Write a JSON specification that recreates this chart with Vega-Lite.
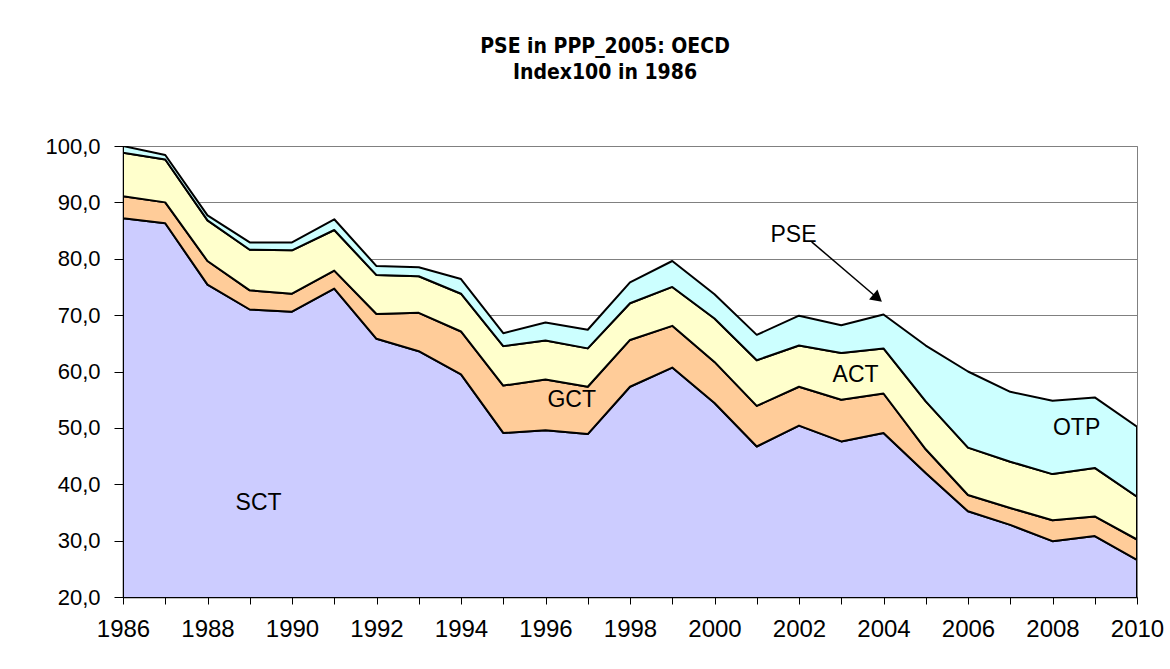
{
  "$schema": "https://vega.github.io/schema/vega-lite/v6.json",
  "width": 1014,
  "height": 451,
  "autosize": {"type": "none"},
  "padding": {"left": 123, "top": 146, "right": 33, "bottom": 72},
  "background": "white",
  "config": {
    "view": {"stroke": "#808080", "strokeWidth": 1},
    "font": "Liberation Sans"
  },
  "title": {
    "text": ["PSE in PPP_2005: OECD", "Index100 in 1986"],
    "font": "DejaVu Sans Condensed, Liberation Sans, sans-serif",
    "fontSize": 21,
    "fontWeight": "bold",
    "color": "black",
    "anchor": "middle",
    "lineHeight": 26,
    "offset": 52,
    "dx": -25
  },
  "datasets": {
    "pse": [
      {"year": 1986, "component": "SCT", "k": 1, "value": 87.2}, {"year": 1986, "component": "GCT", "k": 2, "value": 3.9}, {"year": 1986, "component": "ACT", "k": 3, "value": 7.7}, {"year": 1986, "component": "OTP", "k": 4, "value": 1.2},
      {"year": 1987, "component": "SCT", "k": 1, "value": 86.3}, {"year": 1987, "component": "GCT", "k": 2, "value": 3.7}, {"year": 1987, "component": "ACT", "k": 3, "value": 7.6}, {"year": 1987, "component": "OTP", "k": 4, "value": 0.8},
      {"year": 1988, "component": "SCT", "k": 1, "value": 75.4}, {"year": 1988, "component": "GCT", "k": 2, "value": 4.2}, {"year": 1988, "component": "ACT", "k": 3, "value": 7.2}, {"year": 1988, "component": "OTP", "k": 4, "value": 0.9},
      {"year": 1989, "component": "SCT", "k": 1, "value": 71.0}, {"year": 1989, "component": "GCT", "k": 2, "value": 3.4}, {"year": 1989, "component": "ACT", "k": 3, "value": 7.2}, {"year": 1989, "component": "OTP", "k": 4, "value": 1.3},
      {"year": 1990, "component": "SCT", "k": 1, "value": 70.6}, {"year": 1990, "component": "GCT", "k": 2, "value": 3.2}, {"year": 1990, "component": "ACT", "k": 3, "value": 7.7}, {"year": 1990, "component": "OTP", "k": 4, "value": 1.4},
      {"year": 1991, "component": "SCT", "k": 1, "value": 74.7}, {"year": 1991, "component": "GCT", "k": 2, "value": 3.2}, {"year": 1991, "component": "ACT", "k": 3, "value": 7.2}, {"year": 1991, "component": "OTP", "k": 4, "value": 1.9},
      {"year": 1992, "component": "SCT", "k": 1, "value": 65.8}, {"year": 1992, "component": "GCT", "k": 2, "value": 4.4}, {"year": 1992, "component": "ACT", "k": 3, "value": 6.9}, {"year": 1992, "component": "OTP", "k": 4, "value": 1.6},
      {"year": 1993, "component": "SCT", "k": 1, "value": 63.6}, {"year": 1993, "component": "GCT", "k": 2, "value": 6.8}, {"year": 1993, "component": "ACT", "k": 3, "value": 6.5}, {"year": 1993, "component": "OTP", "k": 4, "value": 1.6},
      {"year": 1994, "component": "SCT", "k": 1, "value": 59.5}, {"year": 1994, "component": "GCT", "k": 2, "value": 7.6}, {"year": 1994, "component": "ACT", "k": 3, "value": 6.7}, {"year": 1994, "component": "OTP", "k": 4, "value": 2.6},
      {"year": 1995, "component": "SCT", "k": 1, "value": 49.1}, {"year": 1995, "component": "GCT", "k": 2, "value": 8.4}, {"year": 1995, "component": "ACT", "k": 3, "value": 7.0}, {"year": 1995, "component": "OTP", "k": 4, "value": 2.3},
      {"year": 1996, "component": "SCT", "k": 1, "value": 49.6}, {"year": 1996, "component": "GCT", "k": 2, "value": 9.0}, {"year": 1996, "component": "ACT", "k": 3, "value": 6.9}, {"year": 1996, "component": "OTP", "k": 4, "value": 3.2},
      {"year": 1997, "component": "SCT", "k": 1, "value": 48.9}, {"year": 1997, "component": "GCT", "k": 2, "value": 8.4}, {"year": 1997, "component": "ACT", "k": 3, "value": 6.8}, {"year": 1997, "component": "OTP", "k": 4, "value": 3.3},
      {"year": 1998, "component": "SCT", "k": 1, "value": 57.3}, {"year": 1998, "component": "GCT", "k": 2, "value": 8.3}, {"year": 1998, "component": "ACT", "k": 3, "value": 6.5}, {"year": 1998, "component": "OTP", "k": 4, "value": 3.7},
      {"year": 1999, "component": "SCT", "k": 1, "value": 60.7}, {"year": 1999, "component": "GCT", "k": 2, "value": 7.4}, {"year": 1999, "component": "ACT", "k": 3, "value": 6.9}, {"year": 1999, "component": "OTP", "k": 4, "value": 4.6},
      {"year": 2000, "component": "SCT", "k": 1, "value": 54.4}, {"year": 2000, "component": "GCT", "k": 2, "value": 7.3}, {"year": 2000, "component": "ACT", "k": 3, "value": 7.7}, {"year": 2000, "component": "OTP", "k": 4, "value": 4.3},
      {"year": 2001, "component": "SCT", "k": 1, "value": 46.7}, {"year": 2001, "component": "GCT", "k": 2, "value": 7.2}, {"year": 2001, "component": "ACT", "k": 3, "value": 8.1}, {"year": 2001, "component": "OTP", "k": 4, "value": 4.5},
      {"year": 2002, "component": "SCT", "k": 1, "value": 50.4}, {"year": 2002, "component": "GCT", "k": 2, "value": 6.9}, {"year": 2002, "component": "ACT", "k": 3, "value": 7.3}, {"year": 2002, "component": "OTP", "k": 4, "value": 5.3},
      {"year": 2003, "component": "SCT", "k": 1, "value": 47.6}, {"year": 2003, "component": "GCT", "k": 2, "value": 7.4}, {"year": 2003, "component": "ACT", "k": 3, "value": 8.3}, {"year": 2003, "component": "OTP", "k": 4, "value": 4.9},
      {"year": 2004, "component": "SCT", "k": 1, "value": 49.1}, {"year": 2004, "component": "GCT", "k": 2, "value": 7.0}, {"year": 2004, "component": "ACT", "k": 3, "value": 8.0}, {"year": 2004, "component": "OTP", "k": 4, "value": 6.0},
      {"year": 2005, "component": "SCT", "k": 1, "value": 42.0}, {"year": 2005, "component": "GCT", "k": 2, "value": 4.2}, {"year": 2005, "component": "ACT", "k": 3, "value": 8.5}, {"year": 2005, "component": "OTP", "k": 4, "value": 9.9},
      {"year": 2006, "component": "SCT", "k": 1, "value": 35.2}, {"year": 2006, "component": "GCT", "k": 2, "value": 2.9}, {"year": 2006, "component": "ACT", "k": 3, "value": 8.4}, {"year": 2006, "component": "OTP", "k": 4, "value": 13.5},
      {"year": 2007, "component": "SCT", "k": 1, "value": 32.8}, {"year": 2007, "component": "GCT", "k": 2, "value": 3.0}, {"year": 2007, "component": "ACT", "k": 3, "value": 8.2}, {"year": 2007, "component": "OTP", "k": 4, "value": 12.4},
      {"year": 2008, "component": "SCT", "k": 1, "value": 29.9}, {"year": 2008, "component": "GCT", "k": 2, "value": 3.7}, {"year": 2008, "component": "ACT", "k": 3, "value": 8.2}, {"year": 2008, "component": "OTP", "k": 4, "value": 13.0},
      {"year": 2009, "component": "SCT", "k": 1, "value": 30.8}, {"year": 2009, "component": "GCT", "k": 2, "value": 3.5}, {"year": 2009, "component": "ACT", "k": 3, "value": 8.6}, {"year": 2009, "component": "OTP", "k": 4, "value": 12.5},
      {"year": 2010, "component": "SCT", "k": 1, "value": 26.6}, {"year": 2010, "component": "GCT", "k": 2, "value": 3.6}, {"year": 2010, "component": "ACT", "k": 3, "value": 7.6}, {"year": 2010, "component": "OTP", "k": 4, "value": 12.4}
    ],
    "labels": [
      {"label": "SCT", "year": 1989.21, "value": 36.7},
      {"label": "GCT", "year": 1996.62, "value": 55.0},
      {"label": "ACT", "year": 2003.34, "value": 59.4},
      {"label": "OTP", "year": 2008.57, "value": 49.9},
      {"label": "PSE", "year": 2001.87, "value": 84.3}
    ],
    "arrow": [
      {"year": 2002.3, "value": 83.0, "year2": 2003.8, "value2": 73.4}
    ],
    "arrowhead": [
      {"year": 2003.86, "value": 73.0}
    ]
  },
  "layer": [
    {
      "data": {"name": "pse"},
      "mark": {"type": "area", "stroke": "black", "strokeWidth": 2, "clip": true, "strokeJoin": "round"},
      "encoding": {
        "x": {
          "field": "year", "type": "quantitative",
          "scale": {"domain": [1986, 2010], "nice": false, "zero": false},
          "axis": {
            "title": null,
            "values": [1986,1987,1988,1989,1990,1991,1992,1993,1994,1995,1996,1997,1998,1999,2000,2001,2002,2003,2004,2005,2006,2007,2008,2009,2010],
            "labelExpr": "datum.value % 2 === 0 ? format(datum.value, 'd') : ''",
            "grid": false,
            "domainColor": "black",
            "domainWidth": 1.5,
            "tickColor": "black",
            "tickSize": 7,
            "labelFontSize": 24,
            "labelColor": "black",
            "labelPadding": 13,
            "labelFlush": false,
            "labelOverlap": false
          }
        },
        "y": {
          "field": "value", "type": "quantitative", "stack": "zero",
          "scale": {"domain": [20, 100], "nice": false, "zero": false},
          "axis": {
            "title": null,
            "values": [20,30,40,50,60,70,80,90,100],
            "labelExpr": "replace(format(datum.value, '.1f'), '.', ',')",
            "grid": true,
            "gridColor": "#808080",
            "gridWidth": 1,
            "domainColor": "black",
            "domainWidth": 1.5,
            "tickColor": "black",
            "tickSize": 9,
            "labelFontSize": 22,
            "labelColor": "black",
            "labelPadding": 14
          }
        },
        "color": {
          "field": "component", "type": "nominal",
          "scale": {"domain": ["SCT", "GCT", "ACT", "OTP"], "range": ["#CCCCFF", "#FFCC99", "#FFFFCC", "#CCFFFF"]},
          "legend": null
        },
        "order": {"field": "k", "type": "quantitative", "sort": "ascending"}
      }
    },
    {
      "data": {"name": "labels"},
      "mark": {"type": "text", "fontSize": 23, "font": "Liberation Sans", "color": "black", "align": "center", "baseline": "middle"},
      "encoding": {
        "x": {"field": "year", "type": "quantitative"},
        "y": {"field": "value", "type": "quantitative"},
        "text": {"field": "label"}
      }
    },
    {
      "data": {"name": "arrow"},
      "mark": {"type": "rule", "color": "black", "strokeWidth": 1.5},
      "encoding": {
        "x": {"field": "year", "type": "quantitative"},
        "y": {"field": "value", "type": "quantitative"},
        "x2": {"field": "year2"},
        "y2": {"field": "value2"}
      }
    },
    {
      "data": {"name": "arrowhead"},
      "mark": {"type": "point", "shape": "triangle-right", "filled": true, "color": "black", "size": 170, "angle": 40, "opacity": 1},
      "encoding": {
        "x": {"field": "year", "type": "quantitative"},
        "y": {"field": "value", "type": "quantitative"}
      }
    }
  ]
}
